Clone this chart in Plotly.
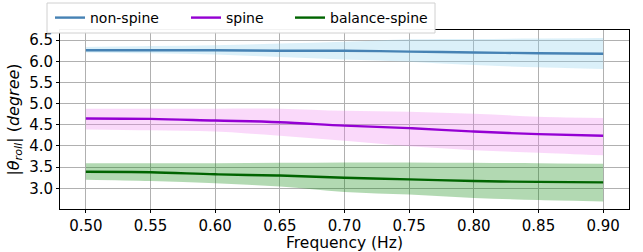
import plotly.graph_objects as go

freq = [0.50, 0.55, 0.60, 0.65, 0.70, 0.75, 0.80, 0.85, 0.90]

nonspine_mean = [6.26, 6.26, 6.26, 6.25, 6.25, 6.23, 6.21, 6.19, 6.18]
nonspine_upper = [6.34, 6.36, 6.38, 6.42, 6.46, 6.52, 6.53, 6.54, 6.55]
nonspine_lower = [6.21, 6.19, 6.16, 6.10, 6.04, 5.99, 5.91, 5.86, 5.82]

spine_mean = [4.65, 4.64, 4.60, 4.56, 4.48, 4.42, 4.34, 4.28, 4.24]
spine_upper = [4.88, 4.88, 4.88, 4.88, 4.83, 4.81, 4.76, 4.69, 4.66]
spine_lower = [4.39, 4.37, 4.34, 4.24, 4.12, 3.99, 3.90, 3.84, 3.78]

balance_mean = [3.39, 3.38, 3.33, 3.30, 3.25, 3.21, 3.17, 3.15, 3.14]
balance_upper = [3.59, 3.59, 3.59, 3.60, 3.61, 3.61, 3.60, 3.59, 3.58]
balance_lower = [3.20, 3.17, 3.12, 3.04, 2.91, 2.85, 2.77, 2.72, 2.69]

series = [
    ("non-spine", nonspine_mean, nonspine_upper, nonspine_lower, "#4682B4", "rgba(135,206,235,0.3)", "legend"),
    ("spine", spine_mean, spine_upper, spine_lower, "#9400D3", "rgba(238,130,238,0.3)", "legend2"),
    ("balance-spine", balance_mean, balance_upper, balance_lower, "#006400", "rgba(0,128,0,0.3)", "legend3"),
]

fig = go.Figure()
for name, m, up, lo, col, fcol, lg in series:
    fig.add_trace(go.Scatter(x=freq, y=up, mode="lines", line=dict(width=0, shape="spline"),
                             showlegend=False, hoverinfo="skip"))
    fig.add_trace(go.Scatter(x=freq, y=lo, mode="lines", line=dict(width=0, shape="spline"),
                             fill="tonexty", fillcolor=fcol, showlegend=False, hoverinfo="skip"))
for name, m, up, lo, col, fcol, lg in series:
    fig.add_trace(go.Scatter(x=freq, y=m, mode="lines", name=name, legend=lg,
                             line=dict(color=col, width=2.4, shape="spline")))

# plot area in px: x 60..629, y 30..209
W, H = 569.0, 179.0
def px_x(p):
    return (p - 60) / W
def px_y(p):
    return (209 - p) / H

leg_common = dict(orientation="h", yanchor="middle", xanchor="left",
                  bgcolor="rgba(0,0,0,0)", borderwidth=0, font=dict(size=14),
                  traceorder="normal")

fig.update_layout(
    width=643, height=252,
    margin=dict(l=60, r=14, t=30, b=43, autoexpand=False),
    paper_bgcolor="white", plot_bgcolor="white",
    font=dict(family="DejaVu Sans", size=14, color="black"),
    legend=dict(x=px_x(50), y=px_y(18), **leg_common),
    legend2=dict(x=px_x(186), y=px_y(18), **leg_common),
    legend3=dict(x=px_x(290), y=px_y(18), **leg_common),
    shapes=[dict(type="rect", xref="paper", yref="paper",
                 x0=px_x(47), x1=px_x(435), y0=px_y(33), y1=px_y(3),
                 line=dict(color="#d0d0d0", width=1), fillcolor="rgba(255,255,255,0.95)",
                 layer="above")],
    xaxis=dict(range=[0.48, 0.92], tickvals=[0.5, 0.55, 0.6, 0.65, 0.7, 0.75, 0.8, 0.85, 0.9],
               ticktext=["0.50", "0.55", "0.60", "0.65", "0.70", "0.75", "0.80", "0.85", "0.90"],
               tickfont=dict(size=15),
               showgrid=True, gridcolor="#b0b0b0", gridwidth=1,
               showline=True, linecolor="black", linewidth=1, mirror=True,
               ticks="outside", ticklen=3, tickcolor="black",
               title=dict(text="Frequency (Hz)", font=dict(size=15.5), standoff=1),
               zeroline=False),
    yaxis=dict(range=[2.51, 6.74], tickvals=[3.0, 3.5, 4.0, 4.5, 5.0, 5.5, 6.0, 6.5],
               ticktext=["3.0", "3.5", "4.0", "4.5", "5.0", "5.5", "6.0", "6.5"],
               tickfont=dict(size=15),
               showgrid=True, gridcolor="#b0b0b0", gridwidth=1,
               showline=True, linecolor="black", linewidth=1, mirror=True,
               ticks="outside", ticklen=3, tickcolor="black",
               title=dict(text="|<i>θ</i><sub><i>roll</i></sub>| (<i>degree</i>)", font=dict(size=16), standoff=5),
               zeroline=False),
)

fig.write_html(
    "out.html",
    config={"displayModeBar": False},
    post_script="document.body.style.margin='0';document.body.style.padding='0';document.body.style.overflow='hidden';",
)
